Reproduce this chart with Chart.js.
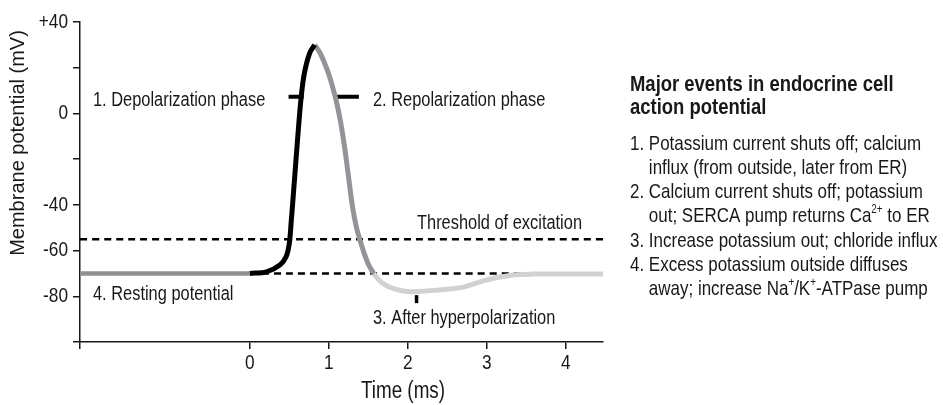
<!DOCTYPE html>
<html>
<head>
<meta charset="utf-8">
<script src="https://cdn.jsdelivr.net/npm/chart.js@4.4.1/dist/chart.umd.min.js"></script>
<style>
  html, body { margin: 0; padding: 0; background: #fff; }
  #wrap { width: 943px; height: 405px; position: relative; }
</style>
</head>
<body>
<div id="wrap"><canvas id="apChart"></canvas></div>
<script>
// Membrane potential trace (time in ms, potential in mV)
const restingTrace = [
  { x: -2.15, y: -70 }, { x: 0, y: -70 },
];
const depolTrace = [
  { x: 0, y: -70 }, { x: 0.21, y: -69.3 }, { x: 0.38, y: -66.3 }, { x: 0.46, y: -62.6 },
  { x: 0.5, y: -56.7 }, { x: 0.525, y: -46.6 }, { x: 0.545, y: -38 }, { x: 0.61, y: -8.7 },
  { x: 0.65, y: 7.3 }, { x: 0.69, y: 17.6 }, { x: 0.756, y: 26.3 }, { x: 0.82, y: 30 },
];
const repolTrace = [
  { x: 0.82, y: 30 }, { x: 0.88, y: 27 }, { x: 0.94, y: 22.5 }, { x: 1.0, y: 17 },
  { x: 1.06, y: 10 }, { x: 1.1, y: 4.5 }, { x: 1.15, y: -4 }, { x: 1.2, y: -15 },
  { x: 1.25, y: -28 }, { x: 1.3, y: -41 }, { x: 1.35, y: -50 }, { x: 1.39, y: -55 },
  { x: 1.45, y: -61.5 }, { x: 1.5, y: -66 }, { x: 1.565, y: -70 },
];
const afterTrace = [
  { x: 1.565, y: -70 }, { x: 1.68, y: -74.3 }, { x: 1.85, y: -77 }, { x: 2.02, y: -78 },
  { x: 2.4, y: -77.2 }, { x: 2.7, y: -76 }, { x: 2.99, y: -72.9 }, { x: 3.33, y: -70.7 },
  { x: 3.58, y: -70.3 }, { x: 4.47, y: -70.3 },
];

// reference levels
const thresholdLine = [{ x: -2.15, y: -55 }, { x: 4.47, y: -55 }];
const restLine = [{ x: 0, y: -70 }, { x: 4.47, y: -70 }];

// phase markers
const depolMark = [{ x: 0.49, y: 7.3 }, { x: 0.68, y: 7.3 }];
const repolMark = [{ x: 1.08, y: 7.3 }, { x: 1.38, y: 7.3 }];
const hyperMark = [{ x: 2.11, y: -79.5 }, { x: 2.11, y: -83 }];

// axes
const xTicks = [-2.15, 0, 1, 2, 3, 4];
const xTickLabels = ["", "0", "1", "2", "3", "4"];
const yTicks = [-100, -80, -60, -40, -20, 0, 20, 40];
const yTickLabels = ["", "-80", "-60", "-40", "", "0", "", "+40"];

const INK = "#1a1718";
const SANS = '"Liberation Sans", Arial, sans-serif';
const SQUEEZE = 0.82; // fake a condensed face

function line(data, color, width, extra) {
  return Object.assign({
    data: data,
    borderColor: color,
    borderWidth: width,
    pointRadius: 0,
    fill: false,
    tension: 0.35,
  }, extra || {});
}

// condensed text: draws runs (optionally superscript) starting at x
function narrowText(ctx, runs, x, y, size, opts) {
  opts = opts || {};
  if (typeof runs === "string") runs = [{ t: runs }];
  const weight = opts.bold ? "bold " : "";
  let total = 0;
  runs.forEach((r) => {
    ctx.font = weight + (r.sup ? Math.round(size * 0.6) : size) + "px " + SANS;
    r.w = ctx.measureText(r.t).width;
    total += r.w;
  });
  ctx.save();
  ctx.translate(x, y);
  ctx.scale(SQUEEZE, 1);
  ctx.textAlign = "left";
  ctx.textBaseline = "middle";
  let cx = 0;
  if (opts.align === "center") cx = -total / 2;
  if (opts.align === "right") cx = -total;
  runs.forEach((r) => {
    ctx.font = weight + (r.sup ? Math.round(size * 0.6) : size) + "px " + SANS;
    ctx.fillText(r.t, cx, r.sup ? -size * 0.33 : 0);
    cx += r.w;
  });
  ctx.restore();
  return total * SQUEEZE;
}

const textPlugin = {
  id: "textPlugin",
  afterDraw(chart) {
    const ctx = chart.ctx;
    const xs = chart.scales.x, ys = chart.scales.y;
    ctx.save();
    ctx.fillStyle = INK;

    // tick labels
    xTicks.forEach((v, i) => {
      narrowText(ctx, xTickLabels[i], xs.getPixelForValue(v), 363, 21, { align: "center" });
    });
    yTicks.forEach((v, i) => {
      narrowText(ctx, yTickLabels[i], 68, ys.getPixelForValue(v), 21, { align: "right" });
    });

    // annotations in the plot
    narrowText(ctx, "1. Depolarization phase", 93, 100, 20);
    narrowText(ctx, "2. Repolarization phase", 373, 100, 20);
    narrowText(ctx, "Threshold of excitation", 417, 223, 20);
    narrowText(ctx, "3. After hyperpolarization", 373, 318, 20);
    narrowText(ctx, "4. Resting potential", 93, 294, 20);

    // axis titles
    narrowText(ctx, "Time (ms)", 403, 392, 23, { align: "center" });
    ctx.save();
    ctx.translate(18, 143);
    ctx.rotate(-Math.PI / 2);
    ctx.font = "20px " + SANS;
    ctx.textAlign = "center";
    ctx.textBaseline = "middle";
    ctx.fillText("Membrane potential (mV)", 0, 0);
    ctx.restore();

    // side panel
    narrowText(ctx, "Major events in endocrine cell", 630, 85, 22.5, { bold: true });
    narrowText(ctx, "action potential", 630, 108, 22.5, { bold: true });

    const fs = 20.7;
    ctx.font = fs + "px " + SANS;
    const indent = 630 + ctx.measureText("1. ").width * SQUEEZE;
    const rows = [
      [630, [{ t: "1. Potassium current shuts off; calcium" }]],
      [indent, [{ t: "influx (from outside, later from ER)" }]],
      [630, [{ t: "2. Calcium current shuts off; potassium" }]],
      [indent, [{ t: "out; SERCA pump returns Ca" }, { t: "2+", sup: true }, { t: " to ER" }]],
      [630, [{ t: "3. Increase potassium out; chloride influx" }]],
      [630, [{ t: "4. Excess potassium outside diffuses" }]],
      [indent, [{ t: "away; increase Na" }, { t: "+", sup: true }, { t: "/K" }, { t: "+", sup: true }, { t: "-ATPase pump" }]],
    ];
    rows.forEach((row, i) => narrowText(ctx, row[1], row[0], 144 + i * 24.2, fs));
    ctx.restore();
  },
};

new Chart(document.getElementById("apChart"), {
  type: "line",
  data: {
    datasets: [
      line(depolTrace, "#000000", 5),
      line(repolTrace, "#929497", 5),
      line(afterTrace, "#cfd1d3", 5),
      line(restingTrace, "#8e9093", 4.5),
      line(depolMark, "#000000", 4),
      line(repolMark, "#000000", 4),
      line(hyperMark, "#000000", 3.5),
      line(restLine, "#000000", 2.5, { borderDash: [7, 5] }),
      line(thresholdLine, "#000000", 2.5, { borderDash: [7, 5] }),
    ],
  },
  options: {
    responsive: true,
    maintainAspectRatio: false,
    animation: false,
    devicePixelRatio: 1,
    layout: { padding: { top: 22, right: 340, left: 0, bottom: 0 } },
    plugins: { legend: { display: false }, tooltip: { enabled: false } },
    scales: {
      x: {
        type: "linear",
        min: -2.15,
        max: 4.47,
        afterBuildTicks: (scale) => { scale.ticks = xTicks.map((v) => ({ value: v })); },
        afterFit: (scale) => { scale.height = 63; },
        ticks: {
          autoSkip: false,
          maxRotation: 0,
          color: "rgba(0,0,0,0)",
          font: { family: SANS, size: 20 },
          callback: (v, i) => xTickLabels[i],
        },
        grid: { drawOnChartArea: false, drawTicks: true, tickLength: 7, color: INK, lineWidth: 1.5 },
        border: { display: true, color: INK, width: 1.5 },
      },
      y: {
        min: -100,
        max: 40,
        afterBuildTicks: (scale) => { scale.ticks = yTicks.map((v) => ({ value: v })); },
        afterFit: (scale) => { scale.width = 80; },
        ticks: {
          autoSkip: false,
          color: "rgba(0,0,0,0)",
          font: { family: SANS, size: 20 },
          callback: (v, i) => yTickLabels[i],
        },
        grid: { drawOnChartArea: false, drawTicks: true, tickLength: 7, color: INK, lineWidth: 1.5 },
        border: { display: true, color: INK, width: 1.5 },
      },
    },
  },
  plugins: [textPlugin],
});
</script>
</body>
</html>
